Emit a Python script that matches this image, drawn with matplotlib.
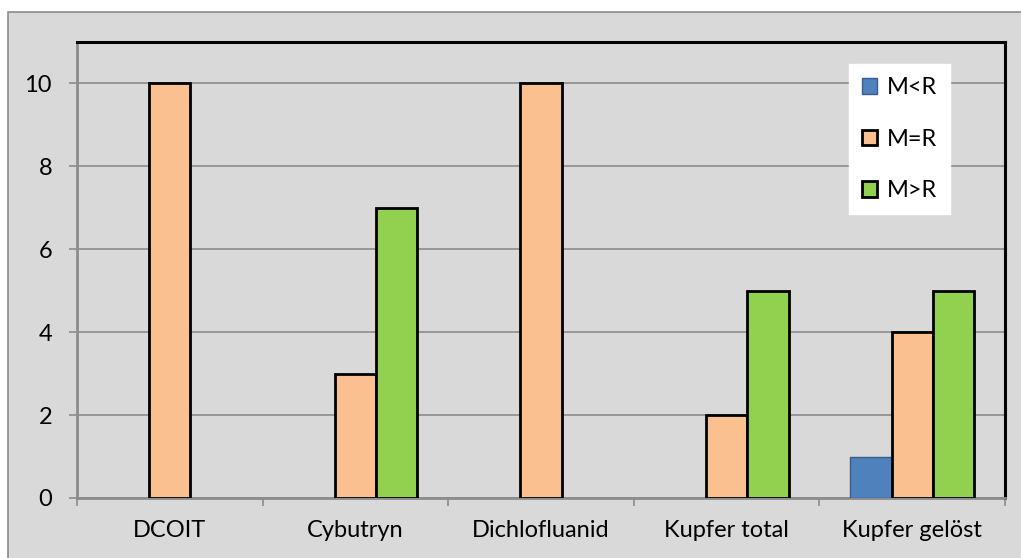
import numpy as np
import matplotlib.pyplot as plt
from matplotlib.patches import Rectangle, Patch

categories = ['DCOIT', 'Cybutryn', 'Dichlofluanid', 'Kupfer total', 'Kupfer gelöst']
m_lt_r = [0, 0, 0, 0, 1]
m_eq_r = [10, 3, 10, 2, 4]
m_gt_r = [0, 7, 0, 5, 5]
yticks = [0, 2, 4, 6, 8, 10]

plt.rcParams['font.family'] = ['Lato', 'DejaVu Sans']

fig = plt.figure(figsize=(10.21, 5.58), dpi=100, facecolor='white')
# grey chart area with its outline, kept behind the axes
fig.patches.append(Rectangle((8 / 1021, -0.01), 1.01, 1 - 12 / 558 + 0.01,
                             transform=fig.transFigure, facecolor='#d9d9d9',
                             edgecolor='#8c8c8c', linewidth=1.2, zorder=-1))

ax = fig.add_axes([77 / 1021, 1 - 498 / 558, 928 / 1021, 456 / 558])
ax.set_facecolor('#d9d9d9')

series = [
    ('M<R', m_lt_r, '#4f81bd', '#385d8a', 1),
    ('M=R', m_eq_r, '#fac090', 'black', 2),
    ('M>R', m_gt_r, '#92d050', 'black', 2),
]

x = np.arange(len(categories))
w = 0.223
handles = []
for i, (name, vals, fc, ec, lw) in enumerate(series):
    # no outline for empty bars
    widths = [lw if v else 0 for v in vals]
    ax.bar(x + (i - 1) * w, vals, w, color=fc, edgecolor=ec, linewidth=widths, zorder=3)
    handles.append(Patch(facecolor=fc, edgecolor=ec, linewidth=lw, label=name))

ax.set_xlim(-0.5, len(categories) - 0.5)
ax.set_ylim(0, 11)
ax.set_yticks(yticks)
ax.yaxis.grid(True, color='#8c8c8c', linewidth=1.2, zorder=1)
ax.set_axisbelow(True)

ax.set_xticks(x)
ax.set_xticklabels(categories, fontsize=17)
ax.tick_params(axis='x', length=0, pad=16)
ax.set_xticks(np.arange(-0.5, len(categories)), minor=True)
ax.tick_params(axis='x', which='minor', length=6, color='#8c8c8c', width=1.2, direction='out')
ax.tick_params(axis='y', labelsize=17, length=6, color='#8c8c8c', width=1.2, pad=12)

for side in ['top', 'right']:
    ax.spines[side].set_color('black')
    ax.spines[side].set_linewidth(2.2)
for side in ['left', 'bottom']:
    ax.spines[side].set_color('#8c8c8c')
    ax.spines[side].set_linewidth(2)

leg = ax.legend(handles=handles, loc='upper left',
                bbox_to_anchor=(849 / 1021, 1 - 64 / 558),
                bbox_transform=fig.transFigure, fontsize=17, frameon=True,
                fancybox=False, handlelength=0.65, handleheight=0.65,
                handletextpad=0.4, labelspacing=1.3, borderpad=0.55,
                borderaxespad=0)
leg.get_frame().set_facecolor('white')
leg.get_frame().set_edgecolor('white')
leg.get_frame().set_alpha(1)

fig.savefig('out.png', dpi=100)
